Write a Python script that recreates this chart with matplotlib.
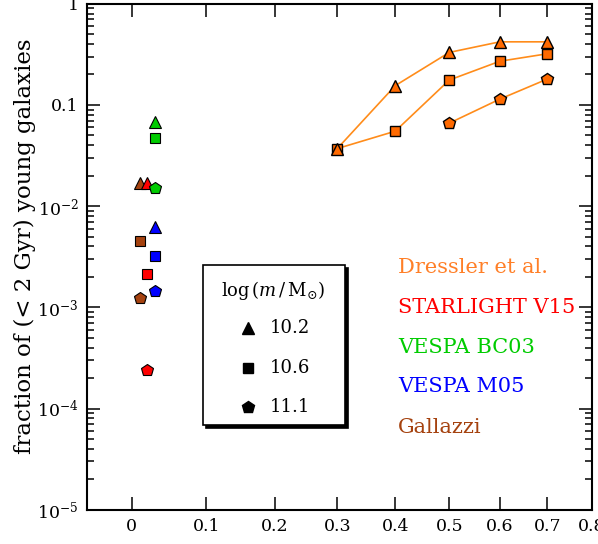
import numpy as np
import matplotlib.pyplot as plt
from matplotlib.patches import Rectangle
from matplotlib.ticker import FixedLocator, FixedFormatter, LogLocator, NullFormatter, NullLocator

# data
masses = ["10.2", "10.6", "11.1"]

z_dressler = [0.3, 0.4, 0.5, 0.6, 0.7]
dressler_102 = [0.037, 0.155, 0.33, 0.42, 0.42]
dressler_106 = [0.037, 0.055, 0.176, 0.27, 0.32]
z_dressler_111 = [0.5, 0.6, 0.7]
dressler_111 = [0.066, 0.114, 0.18]

surveys = ["Gallazzi", "STARLIGHT V15", "VESPA BC03", "VESPA M05"]
z_surveys = [0.01, 0.02, 0.03, 0.03]
gallazzi = [0.017, 0.0045, 0.00123]
starlight = [0.0168, 0.00213, 0.00024]
vespa_bc03 = [0.068, 0.0474, 0.0150]
vespa_m05 = [0.00625, 0.00321, 0.00146]

x_ticks = [0, 0.1, 0.2, 0.3, 0.4, 0.5, 0.6, 0.7, 0.8]
x_ticklabels = ["0", "0.1", "0.2", "0.3", "0.4", "0.5", "0.6", "0.7", "0.8"]
y_ticks = [1e-5, 1e-4, 1e-3, 1e-2, 0.1, 1]
y_ticklabels = [r"$10^{-5}$", r"$10^{-4}$", r"$10^{-3}$", r"$10^{-2}$", "0.1", "1"]

# styles
orange_line = "#ff8c1a"
orange_fill = "#ff6a00"
orange_text = "#ff7f27"
colors = {"Gallazzi": "#a5420f", "STARLIGHT V15": "#ff0000",
          "VESPA BC03": "#00cc00", "VESPA M05": "#0000ff"}
markers = {"10.2": ("^", 8.5), "10.6": ("s", 7.0), "11.1": ("p", 9.3)}

plt.rcParams["font.family"] = "DejaVu Serif"
plt.rcParams["mathtext.fontset"] = "dejavuserif"

fig = plt.figure(figsize=(5.98, 5.44), dpi=100)
ax = fig.add_axes([87 / 598, 1 - 509.7 / 544, 505 / 598, 506 / 544])

# x axis is linear in log(1+z)
ax.set_xscale("function", functions=(lambda z: np.log10(1 + z), lambda u: 10 ** u - 1))
ax.set_yscale("log")

# Dressler et al. (lines + orange markers)
ax.plot(z_dressler, dressler_106, "-", color=orange_line, lw=1.2, zorder=2)
ax.plot(z_dressler, dressler_102, "-", color=orange_line, lw=1.2, zorder=2)
ax.plot(z_dressler_111, dressler_111, "-", color=orange_line, lw=1.2, zorder=2)
for zz, vals, m in [(z_dressler, dressler_106, "10.6"), (z_dressler, dressler_102, "10.2"),
                    (z_dressler_111, dressler_111, "11.1")]:
    mk, ms = markers[m]
    ax.plot(zz, vals, ls="none", marker=mk, ms=ms, mfc=orange_fill, mec="k", mew=1.0, zorder=3)

# low-z surveys
survey_vals = {"Gallazzi": gallazzi, "STARLIGHT V15": starlight,
               "VESPA BC03": vespa_bc03, "VESPA M05": vespa_m05}
for name, zz in zip(surveys, z_surveys):
    for m, v in zip(masses, survey_vals[name]):
        mk, ms = markers[m]
        ax.plot([zz], [v], ls="none", marker=mk, ms=ms, mfc=colors[name], mec="k", mew=0.8, zorder=3)

ax.set_xlim(-0.0557, 0.8)
ax.set_ylim(1e-5, 1)

ax.xaxis.set_major_locator(FixedLocator(x_ticks))
ax.xaxis.set_major_formatter(FixedFormatter(x_ticklabels))
ax.xaxis.set_minor_locator(NullLocator())
ax.yaxis.set_major_locator(FixedLocator(y_ticks))
ax.yaxis.set_major_formatter(FixedFormatter(y_ticklabels))
ax.yaxis.set_minor_locator(LogLocator(base=10, subs=np.arange(2, 10), numticks=20))
ax.yaxis.set_minor_formatter(NullFormatter())

ax.tick_params(which="both", direction="in", top=True, right=True, width=1.1)
ax.tick_params(which="major", length=9.5, labelsize=12.5, pad=6)
ax.tick_params(which="minor", length=5)
for s in ax.spines.values():
    s.set_linewidth(1.5)

ax.set_ylabel("fraction of (< 2 Gyr) young galaxies", fontsize=16.5)
ax.yaxis.set_label_coords(-0.1, 0.521)

# colour key on the right
key_names = ["Dressler et al.", "STARLIGHT V15", "VESPA BC03", "VESPA M05", "Gallazzi"]
key_colors = [orange_text, colors["STARLIGHT V15"], colors["VESPA BC03"],
              colors["VESPA M05"], colors["Gallazzi"]]
key_y = [0.4796, 0.4005, 0.3215, 0.2425, 0.1615]
for name, c, yy in zip(key_names, key_colors, key_y):
    ax.text(0.6158, yy, name, color=c, fontsize=15, ha="left", va="center", transform=ax.transAxes)

# mass key box with shadow
bx0, by0, bw, bh = 0.2297, 0.1674, 0.2812, 0.3162
ax.add_patch(Rectangle((bx0 + 0.006, by0 - 0.006), bw, bh, transform=ax.transAxes,
                       facecolor="k", edgecolor="k", lw=1.2, zorder=5, clip_on=False))
ax.add_patch(Rectangle((bx0, by0), bw, bh, transform=ax.transAxes,
                       facecolor="white", edgecolor="k", lw=1.2, zorder=6, clip_on=False))
ax.text(0.3683, 0.4338, r"log$\,(m\,/\,\mathrm{M}_{\odot})$", fontsize=13, ha="center", va="center",
        transform=ax.transAxes, zorder=7)
for m, yy in zip(masses, [0.3591, 0.2800, 0.2029]):
    mk, ms = markers[m]
    ax.plot([0.3188], [yy], ls="none", marker=mk, ms=ms, color="k", transform=ax.transAxes,
            zorder=7, clip_on=False)
    ax.text(0.3624, yy, m, fontsize=13, ha="left", va="center", transform=ax.transAxes, zorder=7)

fig.savefig("out.png", dpi=100)
